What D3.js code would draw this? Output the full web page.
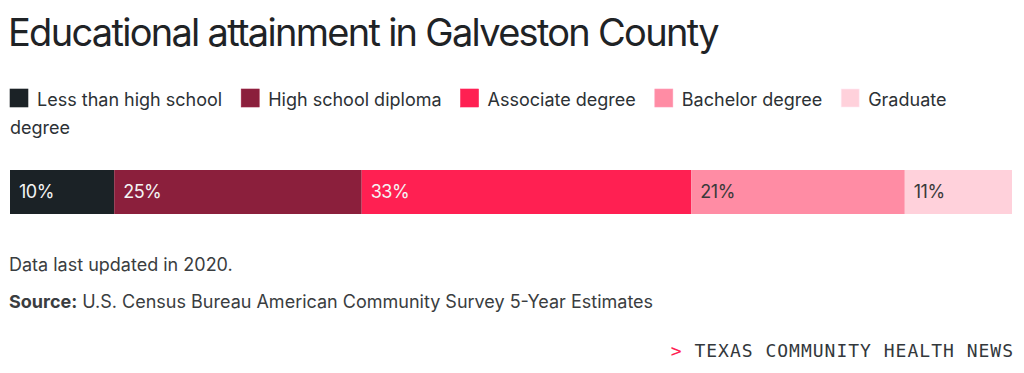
<!DOCTYPE html>
<html>
<head>
<meta charset="utf-8">
<script src="https://cdn.jsdelivr.net/npm/d3@7"></script>
<style>
  body { margin: 0; background: #fff; }
  svg { display: block; font-family: Inter, "Noto Sans", sans-serif; }
</style>
</head>
<body>
<script>
// data
const categories = ['Less than high school degree', 'High school diploma', 'Associate degree', 'Bachelor degree', 'Graduate'];
const shares = [10.4, 24.7, 32.9, 21.3, 10.7];
const colors = ['#1b2226', '#8b1f3c', '#ff2052', '#ff8ca4', '#ffd1db'];
const labelColors = ['#f4f4f4', '#f4f4f4', '#f4f4f4', '#3a3a3a', '#3a3a3a'];

const width = 1024, height = 373;
const svg = d3.select('body').append('svg')
  .attr('width', width)
  .attr('height', height);

const title = svg.append('text')
  .attr('x', 8).attr('y', 46)
  .attr('font-size', 38)
  .attr('fill', '#1f2326')
  .attr('letter-spacing', -1.5)
  .text('Educational attainment in Galveston County');
// squeeze to the width the original takes
const tw = title.node().getComputedTextLength();
if (tw > 710) title.attr('textLength', 710).attr('lengthAdjust', 'spacing');

// legend, wraps like the html flow it came from
const legend = svg.append('g').attr('font-size', 18).attr('fill', '#2c3135');
const maxLabel = 190, rowH = 28;
let lx = 10, ly = 106;
categories.forEach((c, i) => {
  legend.append('rect')
    .attr('x', lx).attr('y', ly - 17)
    .attr('width', 18).attr('height', 18)
    .attr('fill', colors[i])
    .attr('stroke', d3.color(colors[i]).brighter(0.3)).attr('stroke-width', 0.6);
  const t = legend.append('text').attr('x', lx + 27).attr('y', ly);
  // greedy word wrap
  const words = c.split(' ');
  let line = [], first = t.append('tspan').attr('x', lx + 27), cur = first;
  words.forEach(w => {
    line.push(w);
    cur.text(line.join(' '));
    if (cur.node().getComputedTextLength() > maxLabel && line.length > 1) {
      line.pop();
      cur.text(line.join(' '));
      line = [w];
      cur = t.append('tspan').attr('x', 10).attr('dy', rowH).text(w);
    }
  });
  lx += 27 + first.node().getComputedTextLength() + 19;
});

// stacked bar
const x = d3.scaleLinear().domain([0, d3.sum(shares)]).range([10, 1012]);
const stacked = shares.map((v, i) => ({ v, i, x0: d3.sum(shares.slice(0, i)) }));
const bar = svg.append('g');
bar.selectAll('rect').data(stacked).enter().append('rect')
  .attr('x', d => x(d.x0))
  .attr('y', 170)
  .attr('width', d => x(d.x0 + d.v) - x(d.x0))
  .attr('height', 44)
  .attr('fill', d => colors[d.i]);
bar.selectAll('text').data(stacked).enter().append('text')
  .attr('x', d => x(d.x0) + 9)
  .attr('y', 192)
  .attr('dy', '0.35em')
  .attr('font-size', 18)
  .attr('letter-spacing', -0.5)
  .attr('fill', d => labelColors[d.i])
  .text(d => Math.round(d.v) + '%');

svg.append('text')
  .attr('x', 9).attr('y', 271)
  .attr('font-size', 18).attr('fill', '#3a3d40')
  .text('Data last updated in 2020.');

const src = svg.append('text')
  .attr('x', 9).attr('y', 308)
  .attr('font-size', 18).attr('fill', '#3a3d40');
src.append('tspan').attr('font-weight', 700).text('Source:');
src.append('tspan').text(' U.S. Census Bureau American Community Survey 5-Year Estimates');

const brand = svg.append('text')
  .attr('x', 1014).attr('y', 357)
  .attr('text-anchor', 'end')
  .attr('font-family', '"DejaVu Sans Mono", "Liberation Mono", monospace')
  .attr('font-size', 18).attr('fill', '#33383c')
  .attr('letter-spacing', 1);
brand.append('tspan').attr('fill', '#ff2052').text('> ');
brand.append('tspan').text('TEXAS COMMUNITY HEALTH NEWS');
</script>
</body>
</html>
